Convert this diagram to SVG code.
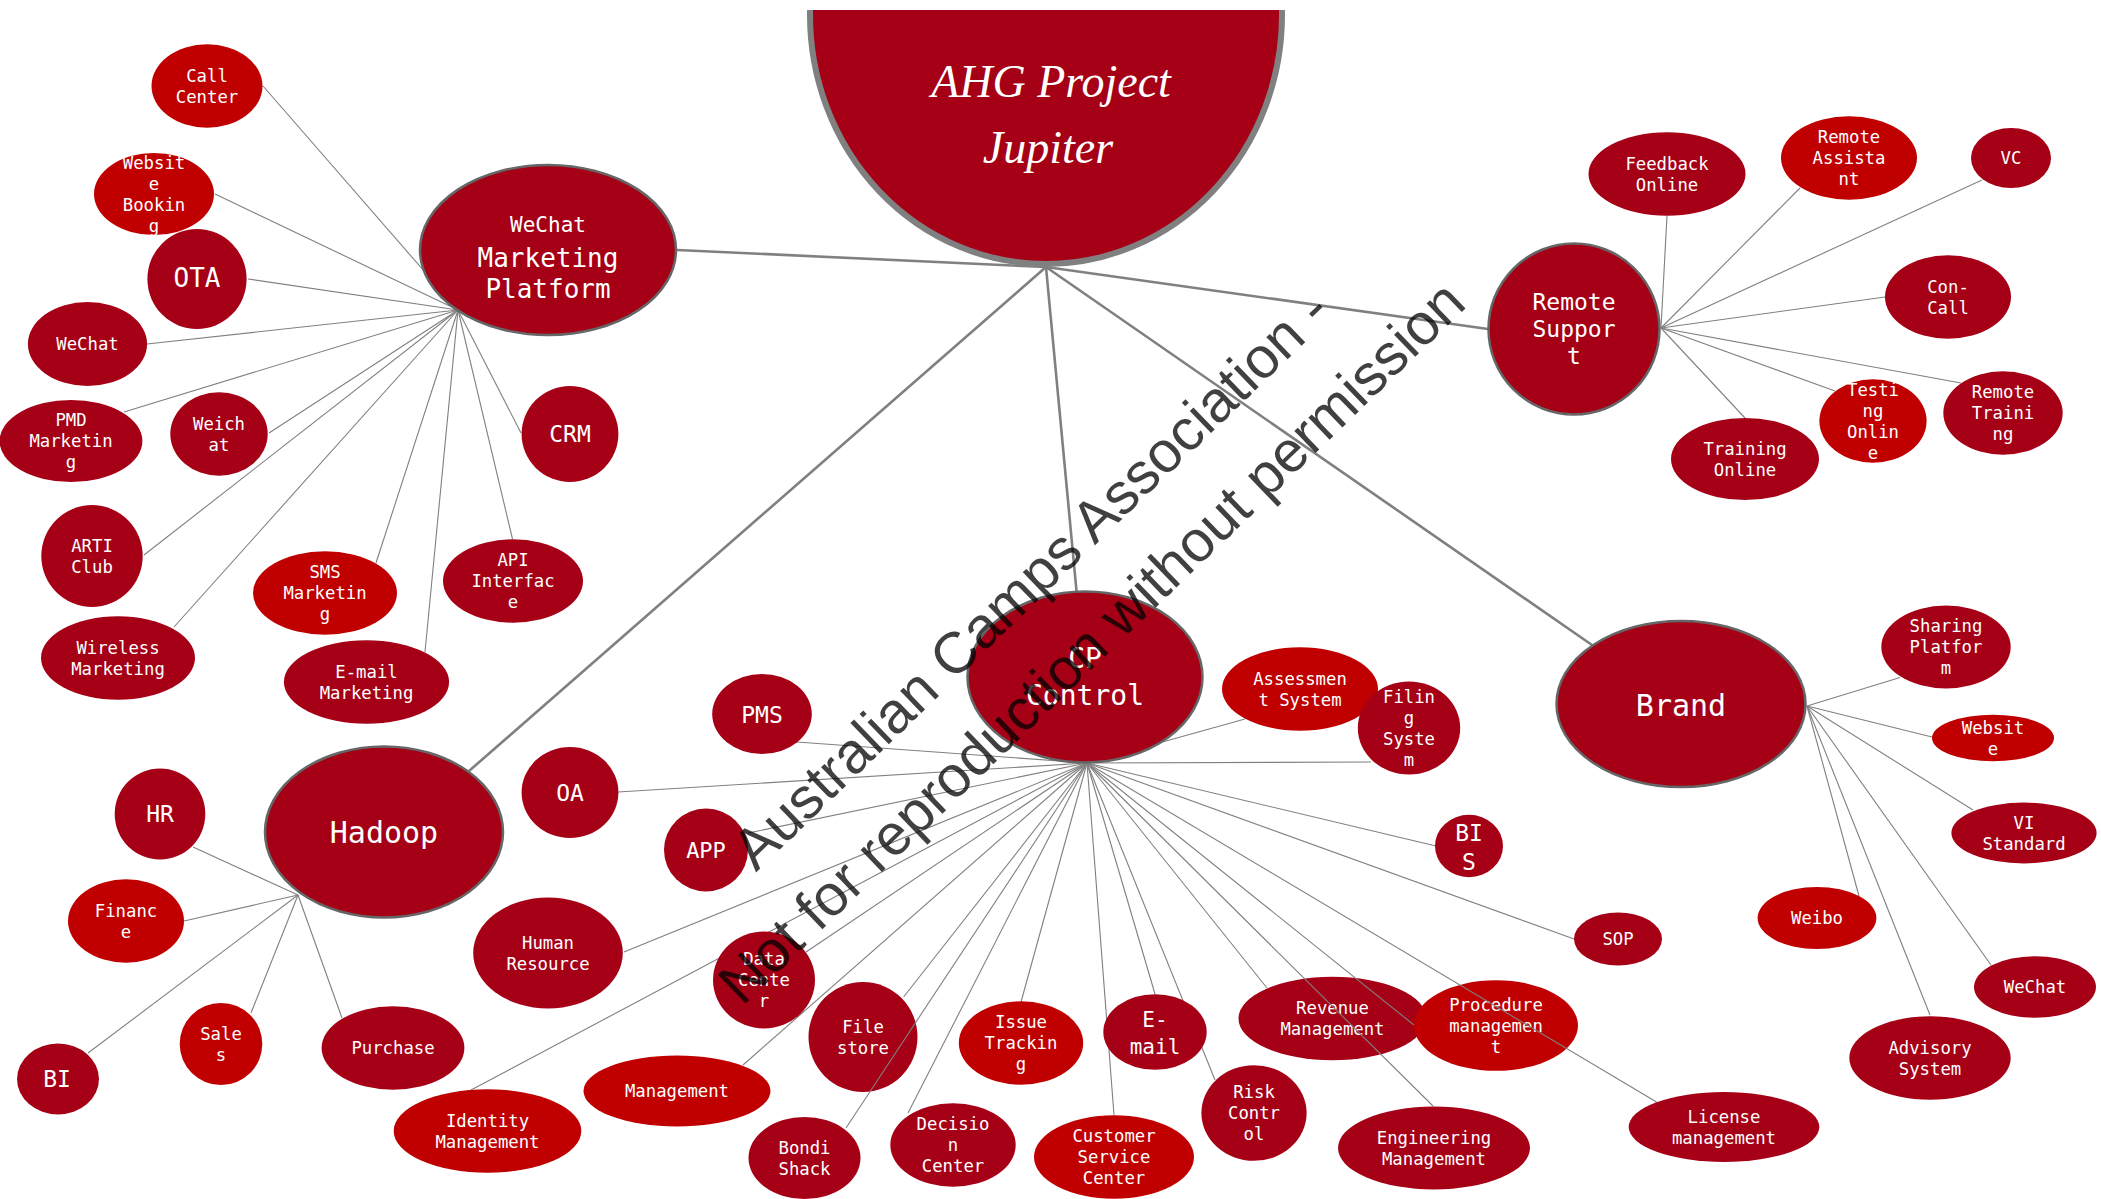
<svg xmlns="http://www.w3.org/2000/svg" width="2101" height="1199" viewBox="0 0 2101 1199">
<style>
.d{fill:#A50016}
.b{fill:#C00000}
.mn{stroke:#666666;stroke-width:2.5}
.t{fill:#ffffff;font-family:"DejaVu Sans Mono",monospace;font-size:17.3px;text-anchor:middle}
.c{stroke:#808080;stroke-width:1.1;fill:none}
.cm{stroke:#808080;stroke-width:2.6;fill:none}
.wm{fill:#000000;fill-opacity:0.75;font-family:"Liberation Sans",Arial,sans-serif;font-size:58px;text-anchor:middle}
</style>
<defs>
<clipPath id="topclip"><rect x="0" y="10" width="2101" height="1189"/></clipPath>
</defs>
<rect x="0" y="0" width="2101" height="1199" fill="#ffffff"/>

<!-- nodes drawn beneath connectors -->
<g id="n-revenue"><ellipse class="d" cx="1332.5" cy="1018.5" rx="94" ry="41.7"/><text class="t"><tspan x="1332.5" y="1014.3">Revenue</tspan><tspan x="1332.5" y="1035.3">Management</tspan></text></g>
<g id="n-procedure"><ellipse class="b" cx="1496" cy="1025.5" rx="82" ry="45.3"/><text class="t"><tspan x="1496" y="1010.8">Procedure</tspan><tspan x="1496" y="1031.8">managemen</tspan><tspan x="1496" y="1052.8">t</tspan></text></g>
<g id="n-filestore"><ellipse class="d" cx="863" cy="1037" rx="54.5" ry="55"/><text class="t"><tspan x="863" y="1032.8">File</tspan><tspan x="863" y="1053.8">store</tspan></text></g>

<g id="connectors">
<line class="cm" x1="1046" y1="267" x2="677" y2="250"/>
<line class="cm" x1="1046" y1="267" x2="1488" y2="329"/>
<line class="cm" x1="1046" y1="267" x2="469" y2="771"/>
<line class="cm" x1="1046" y1="267" x2="1076.5" y2="591"/>
<line class="cm" x1="1046" y1="267" x2="1592" y2="645"/>
<!-- WeChat Marketing Platform -->
<line class="c" x1="458" y1="310" x2="263" y2="86"/>
<line class="c" x1="458" y1="310" x2="215" y2="194"/>
<line class="c" x1="458" y1="310" x2="248" y2="279"/>
<line class="c" x1="458" y1="310" x2="147" y2="344"/>
<line class="c" x1="458" y1="310" x2="124" y2="412"/>
<line class="c" x1="458" y1="310" x2="269" y2="433"/>
<line class="c" x1="458" y1="310" x2="144" y2="555"/>
<line class="c" x1="458" y1="310" x2="174" y2="627"/>
<line class="c" x1="458" y1="310" x2="376" y2="563"/>
<line class="c" x1="458" y1="310" x2="425" y2="652"/>
<line class="c" x1="458" y1="310" x2="512.5" y2="539"/>
<line class="c" x1="458" y1="310" x2="521" y2="433"/>
<!-- Hadoop -->
<line class="c" x1="298" y1="895" x2="193" y2="847"/>
<line class="c" x1="298" y1="895" x2="184" y2="921"/>
<line class="c" x1="298" y1="895" x2="88" y2="1053"/>
<line class="c" x1="298" y1="895" x2="251" y2="1013"/>
<line class="c" x1="298" y1="895" x2="342" y2="1018"/>
<!-- CP Control -->
<line class="c" x1="1087" y1="763" x2="797" y2="742"/>
<line class="c" x1="1087" y1="763" x2="618" y2="792"/>
<line class="c" x1="1087" y1="763" x2="748" y2="833"/>
<line class="c" x1="1087" y1="763" x2="624" y2="952"/>
<line class="c" x1="1087" y1="763" x2="471" y2="1090"/>
<line class="c" x1="1087" y1="763" x2="806" y2="952"/>
<line class="c" x1="1087" y1="763" x2="743" y2="1065"/>
<line class="c" x1="1087" y1="763" x2="903.6" y2="997"/>
<line class="c" x1="1087" y1="763" x2="846" y2="1128"/>
<line class="c" x1="1087" y1="763" x2="908" y2="1113"/>
<line class="c" x1="1087" y1="763" x2="1021" y2="1002"/>
<line class="c" x1="1087" y1="763" x2="1114" y2="1115"/>
<line class="c" x1="1087" y1="763" x2="1155" y2="994"/>
<line class="c" x1="1087" y1="763" x2="1215" y2="1080"/>
<line class="c" x1="1087" y1="763" x2="1267" y2="988"/>
<line class="c" x1="1087" y1="763" x2="1433" y2="1106"/>
<line class="c" x1="1087" y1="763" x2="1414" y2="1025"/>
<line class="c" x1="1087" y1="763" x2="1656.5" y2="1102"/>
<line class="c" x1="1087" y1="763" x2="1574" y2="939"/>
<line class="c" x1="1087" y1="763" x2="1436" y2="846"/>
<line class="c" x1="1087" y1="763" x2="1371" y2="762"/>
<line class="c" x1="1087" y1="763" x2="1245" y2="719"/>
<!-- Brand -->
<line class="c" x1="1807" y1="706" x2="1900" y2="677.5"/>
<line class="c" x1="1807" y1="706" x2="1932" y2="737"/>
<line class="c" x1="1807" y1="706" x2="1973" y2="810"/>
<line class="c" x1="1807" y1="706" x2="1859" y2="896"/>
<line class="c" x1="1807" y1="706" x2="1991" y2="965"/>
<line class="c" x1="1807" y1="706" x2="1930" y2="1015"/>
<!-- Remote Support -->
<line class="c" x1="1661" y1="328" x2="1667" y2="216"/>
<line class="c" x1="1661" y1="328" x2="1800" y2="188"/>
<line class="c" x1="1661" y1="328" x2="1982" y2="180"/>
<line class="c" x1="1661" y1="328" x2="1885" y2="297"/>
<line class="c" x1="1661" y1="328" x2="1835" y2="391"/>
<line class="c" x1="1661" y1="328" x2="1961" y2="383"/>
<line class="c" x1="1661" y1="328" x2="1745" y2="418"/>
</g>

<!-- root -->
<g id="n-ahg" clip-path="url(#topclip)">
<ellipse cx="1046" cy="15" rx="236" ry="249" fill="#A50016" stroke="#808080" stroke-width="6"/>
<text fill="#ffffff" font-family="'Liberation Serif',serif" font-style="italic" font-size="46" text-anchor="middle"><tspan x="1051" y="97">AHG Project</tspan><tspan x="1048" y="163">Jupiter</tspan></text>
</g>

<!-- level 1 -->
<g id="n-wmp"><ellipse class="d mn" cx="548" cy="250" rx="128" ry="85"/><text class="t"><tspan x="548" y="231.7" font-size="21">WeChat</tspan><tspan x="548" y="266.7" font-size="26">Marketing</tspan><tspan x="548" y="297.7" font-size="26">Platform</tspan></text></g>
<g id="n-rs"><ellipse class="d mn" cx="1574" cy="329" rx="85.5" ry="85.5"/><text class="t" font-size="23" style="font-size:23px"><tspan x="1574" y="310">Remote</tspan><tspan x="1574" y="337.3">Suppor</tspan><tspan x="1574" y="364.3">t</tspan></text></g>
<g id="n-hadoop"><ellipse class="d mn" cx="384" cy="832" rx="119" ry="85.5"/><text class="t" style="font-size:30px" x="384" y="843">Hadoop</text></g>
<g id="n-cp"><ellipse class="d mn" cx="1085" cy="677" rx="117.5" ry="85.5"/><text class="t" style="font-size:28px"><tspan x="1085" y="668">CP</tspan><tspan x="1085" y="705">Control</tspan></text></g>
<g id="n-brand"><ellipse class="d mn" cx="1681" cy="704" rx="124.5" ry="83"/><text class="t" style="font-size:30px" x="1681" y="716">Brand</text></g>

<!-- WeChat Marketing Platform children -->
<g id="n-callcenter"><ellipse class="b" cx="207" cy="86" rx="55.5" ry="41.7"/><text class="t"><tspan x="207" y="81.8">Call</tspan><tspan x="207" y="102.8">Center</tspan></text></g>
<g id="n-websitebooking"><ellipse class="b" cx="154" cy="194" rx="60" ry="41"/><text class="t"><tspan x="154" y="168.8">Websit</tspan><tspan x="154" y="189.8">e</tspan><tspan x="154" y="210.8">Bookin</tspan><tspan x="154" y="231.8">g</tspan></text></g>
<g id="n-ota"><ellipse class="d" cx="197" cy="279" rx="49.6" ry="50"/><text class="t" style="font-size:26px" x="197" y="287.3">OTA</text></g>
<g id="n-wechat1"><ellipse class="d" cx="87.5" cy="344" rx="59.6" ry="42"/><text class="t" x="87.5" y="350.3">WeChat</text></g>
<g id="n-pmd"><ellipse class="d" cx="71" cy="441" rx="71.4" ry="41"/><text class="t"><tspan x="71" y="426.3">PMD</tspan><tspan x="71" y="447.3">Marketin</tspan><tspan x="71" y="468.3">g</tspan></text></g>
<g id="n-weichat"><ellipse class="d" cx="219" cy="434" rx="48.7" ry="41.7"/><text class="t"><tspan x="219" y="429.8">Weich</tspan><tspan x="219" y="450.8">at</tspan></text></g>
<g id="n-arti"><ellipse class="d" cx="92" cy="556" rx="50.7" ry="51"/><text class="t"><tspan x="92" y="551.8">ARTI</tspan><tspan x="92" y="572.8">Club</tspan></text></g>
<g id="n-wireless"><ellipse class="d" cx="118" cy="658" rx="77" ry="41.7"/><text class="t"><tspan x="118" y="653.8">Wireless</tspan><tspan x="118" y="674.8">Marketing</tspan></text></g>
<g id="n-sms"><ellipse class="b" cx="325" cy="593" rx="72" ry="41.7"/><text class="t"><tspan x="325" y="578.3">SMS</tspan><tspan x="325" y="599.3">Marketin</tspan><tspan x="325" y="620.3">g</tspan></text></g>
<g id="n-emailmkt"><ellipse class="d" cx="366.5" cy="682" rx="82.6" ry="41.7"/><text class="t"><tspan x="366.5" y="677.8">E-mail</tspan><tspan x="366.5" y="698.8">Marketing</tspan></text></g>
<g id="n-api"><ellipse class="d" cx="513" cy="581" rx="70" ry="41.7"/><text class="t"><tspan x="513" y="566.3">API</tspan><tspan x="513" y="587.3">Interfac</tspan><tspan x="513" y="608.3">e</tspan></text></g>
<g id="n-crm"><ellipse class="d" cx="570" cy="434" rx="48.4" ry="48"/><text class="t" style="font-size:23px" x="570" y="442.3">CRM</text></g>

<!-- Hadoop children -->
<g id="n-hr"><ellipse class="d" cx="160" cy="814" rx="45.3" ry="45.5"/><text class="t" style="font-size:23px" x="160" y="821.7">HR</text></g>
<g id="n-finance"><ellipse class="b" cx="126" cy="921" rx="58" ry="41.7"/><text class="t"><tspan x="126" y="916.8">Financ</tspan><tspan x="126" y="937.8">e</tspan></text></g>
<g id="n-bi"><ellipse class="d" cx="58" cy="1079" rx="41" ry="35.5"/><text class="t" style="font-size:23px" x="57" y="1086.7">BI</text></g>
<g id="n-sales"><ellipse class="b" cx="221" cy="1044" rx="41.3" ry="41"/><text class="t"><tspan x="221" y="1039.8">Sale</tspan><tspan x="221" y="1060.8">s</tspan></text></g>
<g id="n-purchase"><ellipse class="d" cx="393" cy="1048" rx="71.4" ry="41.7"/><text class="t" x="393" y="1054.3">Purchase</text></g>

<!-- CP Control children -->
<g id="n-pms"><ellipse class="d" cx="762" cy="714" rx="49.8" ry="40"/><text class="t" style="font-size:23px" x="762" y="722.7">PMS</text></g>
<g id="n-oa"><ellipse class="d" cx="570" cy="792.5" rx="48.4" ry="45.5"/><text class="t" style="font-size:23px" x="570" y="800.5">OA</text></g>
<g id="n-app"><ellipse class="d" cx="706" cy="850" rx="42" ry="41.5"/><text class="t" style="font-size:22px" x="706" y="858">APP</text></g>
<g id="n-humanresource"><ellipse class="d" cx="548" cy="953" rx="74.8" ry="55.5"/><text class="t"><tspan x="548" y="948.8">Human</tspan><tspan x="548" y="969.8">Resource</tspan></text></g>
<g id="n-identity"><ellipse class="b" cx="487.5" cy="1131" rx="93.8" ry="41.7"/><text class="t"><tspan x="487.5" y="1126.8">Identity</tspan><tspan x="487.5" y="1147.8">Management</tspan></text></g>
<g id="n-datacenter"><ellipse class="d" cx="764" cy="980" rx="51" ry="48.5"/><text class="t"><tspan x="764" y="965.3">Data</tspan><tspan x="764" y="986.3">Cente</tspan><tspan x="764" y="1007.3">r</tspan></text></g>
<g id="n-management"><ellipse class="b" cx="677" cy="1091" rx="93.5" ry="35.5"/><text class="t" x="677" y="1097.3">Management</text></g>
<g id="n-bondi"><ellipse class="d" cx="804.5" cy="1158" rx="56" ry="41"/><text class="t"><tspan x="804.5" y="1153.8">Bondi</tspan><tspan x="804.5" y="1174.8">Shack</tspan></text></g>
<g id="n-decision"><ellipse class="d" cx="953" cy="1145" rx="62.7" ry="41.7"/><text class="t"><tspan x="953" y="1130.3">Decisio</tspan><tspan x="953" y="1151.3">n</tspan><tspan x="953" y="1172.3">Center</tspan></text></g>
<g id="n-issue"><ellipse class="b" cx="1021" cy="1043" rx="62.2" ry="41.7"/><text class="t"><tspan x="1021" y="1028.3">Issue</tspan><tspan x="1021" y="1049.3">Trackin</tspan><tspan x="1021" y="1070.3">g</tspan></text></g>
<g id="n-customer"><ellipse class="b" cx="1114" cy="1157" rx="80" ry="41.7"/><text class="t"><tspan x="1114" y="1142.3">Customer</tspan><tspan x="1114" y="1163.3">Service</tspan><tspan x="1114" y="1184.3">Center</tspan></text></g>
<g id="n-email"><ellipse class="d" cx="1155" cy="1032" rx="51.7" ry="37.8"/><text class="t" style="font-size:21px"><tspan x="1155" y="1027">E-</tspan><tspan x="1155" y="1054">mail</tspan></text></g>
<g id="n-risk"><ellipse class="d" cx="1254" cy="1113" rx="52.6" ry="47.8"/><text class="t"><tspan x="1254" y="1098.3">Risk</tspan><tspan x="1254" y="1119.3">Contr</tspan><tspan x="1254" y="1140.3">ol</tspan></text></g>
<g id="n-engineering"><ellipse class="d" cx="1434" cy="1148" rx="96" ry="41.5"/><text class="t"><tspan x="1434" y="1143.8">Engineering</tspan><tspan x="1434" y="1164.8">Management</tspan></text></g>
<g id="n-license"><ellipse class="d" cx="1724" cy="1127" rx="95.3" ry="35"/><text class="t"><tspan x="1724" y="1122.8">License</tspan><tspan x="1724" y="1143.8">management</tspan></text></g>
<g id="n-sop"><ellipse class="d" cx="1618" cy="939" rx="44" ry="26.6"/><text class="t" x="1618" y="945.3">SOP</text></g>
<g id="n-bis"><ellipse class="d" cx="1469" cy="846" rx="34" ry="31.2"/><text class="t" style="font-size:23px"><tspan x="1469" y="840.6">BI</tspan><tspan x="1469" y="870">S</tspan></text></g>
<g id="n-assessment"><ellipse class="b" cx="1300" cy="689" rx="78" ry="41.7"/><text class="t"><tspan x="1300" y="684.8">Assessmen</tspan><tspan x="1300" y="705.8">t System</tspan></text></g>
<g id="n-filing"><ellipse class="d" cx="1409" cy="728" rx="51.2" ry="46.6"/><text class="t"><tspan x="1409" y="702.8">Filin</tspan><tspan x="1409" y="723.8">g</tspan><tspan x="1409" y="744.8">Syste</tspan><tspan x="1409" y="765.8">m</tspan></text></g>

<!-- Brand children -->
<g id="n-sharing"><ellipse class="d" cx="1946" cy="647" rx="64.7" ry="41.5"/><text class="t"><tspan x="1946" y="632.3">Sharing</tspan><tspan x="1946" y="653.3">Platfor</tspan><tspan x="1946" y="674.3">m</tspan></text></g>
<g id="n-website"><ellipse class="b" cx="1993" cy="738" rx="61" ry="23.3"/><text class="t"><tspan x="1993" y="733.8">Websit</tspan><tspan x="1993" y="754.8">e</tspan></text></g>
<g id="n-vi"><ellipse class="d" cx="2024" cy="833" rx="72.6" ry="30.4"/><text class="t"><tspan x="2024" y="828.8">VI</tspan><tspan x="2024" y="849.8">Standard</tspan></text></g>
<g id="n-weibo"><ellipse class="b" cx="1817" cy="918" rx="59.4" ry="31"/><text class="t" x="1817" y="924.3">Weibo</text></g>
<g id="n-wechat2"><ellipse class="d" cx="2035" cy="987" rx="61" ry="30.8"/><text class="t" x="2035" y="993.3">WeChat</text></g>
<g id="n-advisory"><ellipse class="d" cx="1930" cy="1058" rx="80.7" ry="41.8"/><text class="t"><tspan x="1930" y="1053.8">Advisory</tspan><tspan x="1930" y="1074.8">System</tspan></text></g>

<!-- Remote Support children -->
<g id="n-feedback"><ellipse class="d" cx="1667" cy="174" rx="78.5" ry="41.7"/><text class="t"><tspan x="1667" y="169.8">Feedback</tspan><tspan x="1667" y="190.8">Online</tspan></text></g>
<g id="n-remoteassist"><ellipse class="b" cx="1849" cy="158" rx="68" ry="41.7"/><text class="t"><tspan x="1849" y="143.3">Remote</tspan><tspan x="1849" y="164.3">Assista</tspan><tspan x="1849" y="185.3">nt</tspan></text></g>
<g id="n-vc"><ellipse class="d" cx="2011" cy="158" rx="40" ry="30"/><text class="t" x="2011" y="164.3">VC</text></g>
<g id="n-concall"><ellipse class="d" cx="1948" cy="297" rx="63" ry="41.7"/><text class="t"><tspan x="1948" y="292.8">Con-</tspan><tspan x="1948" y="313.8">Call</tspan></text></g>
<g id="n-testing"><ellipse class="b" cx="1873" cy="421" rx="53.6" ry="41.7"/><text class="t"><tspan x="1873" y="395.8">Testi</tspan><tspan x="1873" y="416.8">ng</tspan><tspan x="1873" y="437.8">Onlin</tspan><tspan x="1873" y="458.8">e</tspan></text></g>
<g id="n-remotetraining"><ellipse class="d" cx="2003" cy="413" rx="59.7" ry="41.7"/><text class="t"><tspan x="2003" y="398.3">Remote</tspan><tspan x="2003" y="419.3">Traini</tspan><tspan x="2003" y="440.3">ng</tspan></text></g>
<g id="n-trainingonline"><ellipse class="d" cx="1745" cy="459" rx="74" ry="41"/><text class="t"><tspan x="1745" y="454.8">Training</tspan><tspan x="1745" y="475.8">Online</tspan></text></g>

<!-- watermark -->
<g id="watermark" transform="translate(1075,625) rotate(-44)">
<text class="wm" x="0" y="-43.5">Australian Camps Association -</text>
<text class="wm" x="0" y="43.5">Not for reproduction without permission</text>
</g>
</svg>
